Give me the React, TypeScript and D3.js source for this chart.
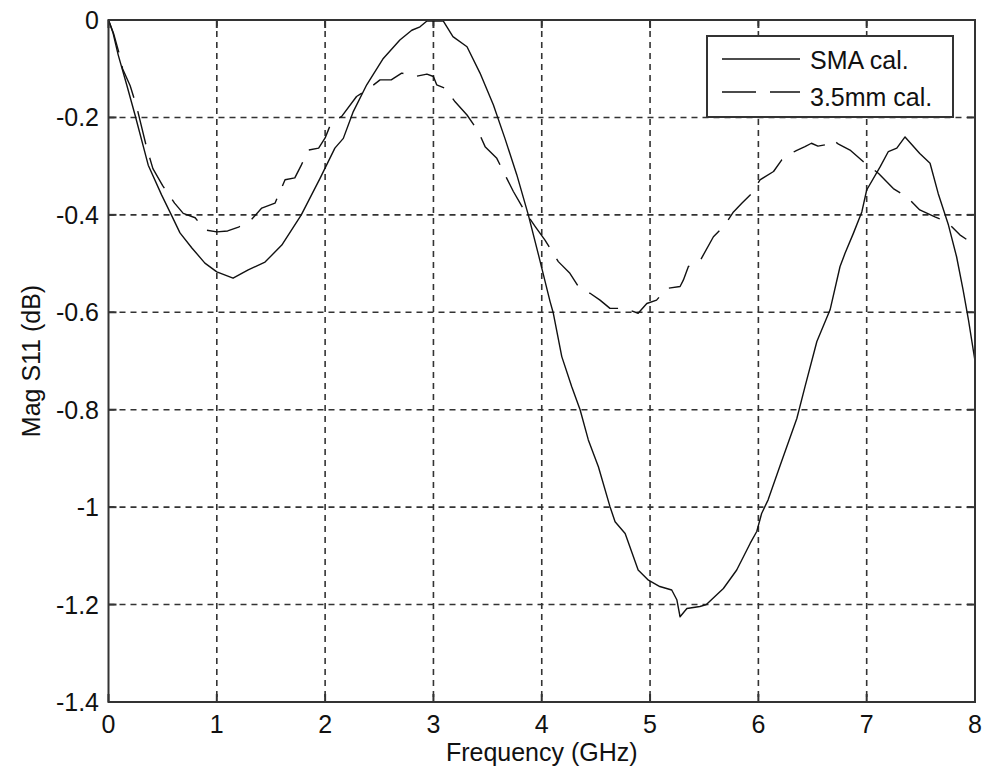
import * as d3 from 'd3';

// SMA calibration (solid)
const smaFreq = [0, 0.04, 0.09, 0.168, 0.245, 0.367, 0.49, 0.58, 0.66, 0.77, 0.89, 1.0, 1.15, 1.29, 1.445, 1.6, 1.78, 1.953, 2.09, 2.168, 2.26, 2.384, 2.537, 2.69, 2.8, 2.876, 2.94, 3.09, 3.18, 3.31, 3.43, 3.553, 3.66, 3.77, 3.876, 3.97, 4.077, 4.107, 4.185, 4.277, 4.354, 4.43, 4.523, 4.63, 4.677, 4.77, 4.89, 4.985, 5.09, 5.2, 5.247, 5.277, 5.34, 5.46, 5.52, 5.677, 5.8, 5.925, 5.985, 6.03, 6.09, 6.2, 6.355, 6.43, 6.54, 6.662, 6.754, 6.8, 6.877, 6.955, 7.0, 7.125, 7.2, 7.278, 7.354, 7.49, 7.585, 7.66, 7.755, 7.83, 7.89, 7.94, 8.0];
const smaMag = [0, -0.025, -0.072, -0.133, -0.195, -0.298, -0.359, -0.4, -0.437, -0.468, -0.499, -0.517, -0.53, -0.513, -0.497, -0.462, -0.4, -0.325, -0.263, -0.243, -0.188, -0.133, -0.079, -0.041, -0.021, -0.014, -0.002, -0.002, -0.034, -0.055, -0.109, -0.174, -0.243, -0.318, -0.4, -0.482, -0.578, -0.602, -0.691, -0.753, -0.8, -0.862, -0.917, -0.999, -1.03, -1.054, -1.129, -1.15, -1.163, -1.17, -1.19, -1.225, -1.208, -1.204, -1.2, -1.167, -1.129, -1.074, -1.05, -1.013, -0.985, -0.915, -0.818, -0.753, -0.66, -0.595, -0.506, -0.479, -0.438, -0.394, -0.349, -0.301, -0.27, -0.263, -0.24, -0.274, -0.294, -0.356, -0.421, -0.486, -0.554, -0.616, -0.7];

// 3.5mm calibration (dashed)
const calFreq = [0, 0.05, 0.1, 0.13, 0.2, 0.26, 0.35, 0.41, 0.5, 0.61, 0.69, 0.8, 0.89, 1.0, 1.1, 1.2, 1.29, 1.415, 1.537, 1.63, 1.72, 1.78, 1.845, 1.94, 2.0, 2.06, 2.153, 2.29, 2.384, 2.507, 2.61, 2.707, 2.83, 2.94, 3.0, 3.03, 3.107, 3.2, 3.31, 3.415, 3.477, 3.585, 3.677, 3.738, 3.846, 3.94, 4.03, 4.153, 4.26, 4.338, 4.446, 4.538, 4.63, 4.77, 4.89, 4.97, 5.06, 5.154, 5.277, 5.307, 5.354, 5.46, 5.585, 5.69, 5.77, 5.847, 5.94, 6.015, 6.14, 6.216, 6.277, 6.35, 6.43, 6.49, 6.55, 6.646, 6.69, 6.74, 6.846, 6.97, 7.11, 7.246, 7.37, 7.49, 7.63, 7.74, 7.86, 7.92];
const calMag = [0, -0.03, -0.07, -0.1, -0.135, -0.178, -0.26, -0.305, -0.34, -0.376, -0.397, -0.406, -0.431, -0.435, -0.433, -0.425, -0.417, -0.386, -0.376, -0.328, -0.324, -0.298, -0.267, -0.263, -0.242, -0.209, -0.198, -0.157, -0.144, -0.123, -0.123, -0.109, -0.116, -0.111, -0.116, -0.133, -0.14, -0.168, -0.195, -0.229, -0.26, -0.284, -0.325, -0.352, -0.394, -0.424, -0.452, -0.496, -0.52, -0.547, -0.561, -0.575, -0.592, -0.592, -0.602, -0.582, -0.575, -0.551, -0.547, -0.534, -0.506, -0.495, -0.445, -0.421, -0.394, -0.376, -0.356, -0.328, -0.311, -0.287, -0.277, -0.268, -0.26, -0.253, -0.259, -0.255, -0.246, -0.255, -0.267, -0.291, -0.315, -0.346, -0.363, -0.39, -0.404, -0.414, -0.441, -0.45];

const xTicks = [0, 1, 2, 3, 4, 5, 6, 7, 8];
const yTicks = [0, -0.2, -0.4, -0.6, -0.8, -1, -1.2, -1.4];
const yTickLabels = ['0', '-0.2', '-0.4', '-0.6', '-0.8', '-1', '-1.2', '-1.4'];
const seriesNames = ['SMA cal.', '3.5mm cal.'];

const FONT = '"Liberation Sans", Arial, sans-serif';
const INK = '#111';
const DASH = '34,14';

export default function App() {
  const x = d3.scaleLinear().domain([0, 8]).range([108.5, 975]);
  const y = d3.scaleLinear().domain([-1.4, 0]).range([702, 20]);
  const [x0, x1] = x.range();
  const [y0, y1] = y.range(); // bottom, top

  const line = d3.line<[number, number]>().x(d => x(d[0])).y(d => y(d[1]));
  const sma = smaFreq.map((f, i) => [f, smaMag[i]] as [number, number]);
  const cal = calFreq.map((f, i) => [f, calMag[i]] as [number, number]);

  const tick = 8;

  return (
    <svg width={984} height={780} style={{ position: 'absolute', left: 0, top: 0, background: '#fff' }}
      fontFamily={FONT}>
      <rect x={0} y={0} width={984} height={780} fill="#fff" />

      {/* grid */}
      {xTicks.slice(1, -1).map(t => (
        <line key={'gx' + t} x1={x(t)} x2={x(t)} y1={y1} y2={y0} stroke="#333" strokeWidth={1.6} strokeDasharray="6,5" />
      ))}
      {yTicks.slice(1, -1).map(t => (
        <line key={'gy' + t} x1={x0} x2={x1} y1={y(t)} y2={y(t)} stroke="#333" strokeWidth={1.6} strokeDasharray="6,5" />
      ))}

      {/* ticks, all four sides */}
      {xTicks.map(t => (
        <g key={'tx' + t} stroke="#333" strokeWidth={2}>
          <line x1={x(t)} x2={x(t)} y1={y0} y2={y0 - tick} />
          <line x1={x(t)} x2={x(t)} y1={y1} y2={y1 + tick} />
        </g>
      ))}
      {yTicks.map(t => (
        <g key={'ty' + t} stroke="#333" strokeWidth={2}>
          <line x1={x0} x2={x0 + tick} y1={y(t)} y2={y(t)} />
          <line x1={x1} x2={x1 - tick} y1={y(t)} y2={y(t)} />
        </g>
      ))}

      {/* data */}
      <path d={line(sma) ?? ''} fill="none" stroke={INK} strokeWidth={1.4} strokeLinejoin="round" />
      <path d={line(cal) ?? ''} fill="none" stroke={INK} strokeWidth={1.4} strokeLinejoin="round" strokeDasharray={DASH} />

      {/* frame */}
      <rect x={x0} y={y1} width={x1 - x0} height={y0 - y1} fill="none" stroke="#333" strokeWidth={2} />

      {/* tick labels */}
      {xTicks.map(t => (
        <text key={'lx' + t} x={x(t)} y={733} textAnchor="middle" fontSize={25} fill={INK}>{t}</text>
      ))}
      {yTicks.map((t, i) => (
        <text key={'ly' + t} x={99} y={y(t) + 9} textAnchor="end" fontSize={25} fill={INK}>{yTickLabels[i]}</text>
      ))}

      {/* axis titles */}
      <text x={(x0 + x1) / 2} y={761} textAnchor="middle" fontSize={25} fill={INK}>Frequency (GHz)</text>
      <text transform={`translate(40, ${(y0 + y1) / 2}) rotate(-90)`} textAnchor="middle" fontSize={25} fill={INK}>Mag S11 (dB)</text>

      {/* legend */}
      <g>
        <rect x={707} y={36} width={246} height={81} fill="#fff" stroke="#333" strokeWidth={2} />
        {seriesNames.map((name, i) => {
          const ly = 59 + i * 33;
          return (
            <g key={name}>
              <line x1={722} x2={800} y1={ly} y2={ly} stroke={INK} strokeWidth={1.4}
                strokeDasharray={i === 1 ? DASH : undefined} />
              <text x={810} y={ly + 10 + i * 4} fontSize={25} fill={INK}>{name}</text>
            </g>
          );
        })}
      </g>
    </svg>
  );
}
